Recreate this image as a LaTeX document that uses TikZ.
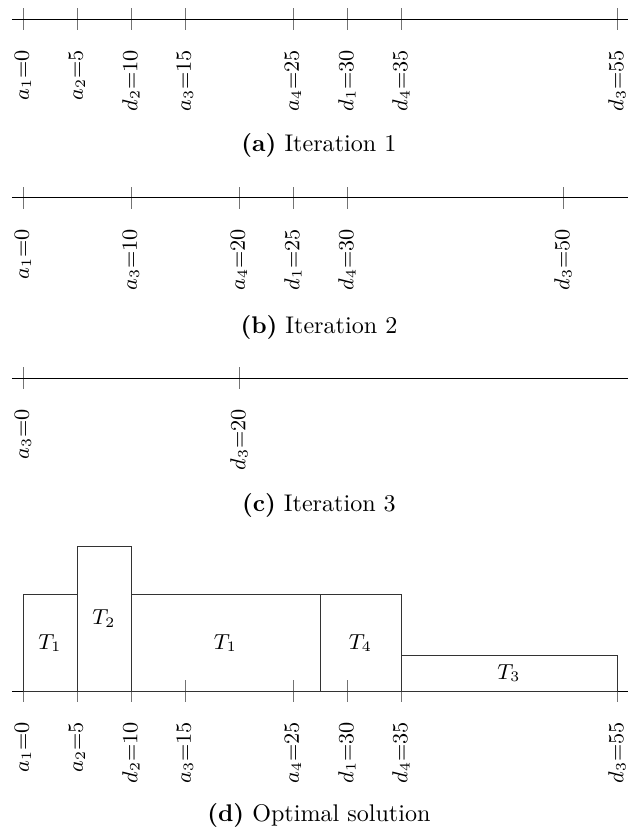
\documentclass[tikz,border=0pt]{standalone}
\usepackage{amsmath}
\usetikzlibrary{positioning}
\tikzset{
  axis/.style={black, line width=0.4pt},
  tick/.style={black!55, line width=0.4pt},
  lbl/.style={anchor=east, rotate=90, font=\small, inner sep=1pt},
  captxt/.style={font=\normalsize},
  job/.style={draw=black!80, line width=0.4pt},
  jlbl/.style={font=\small},
}

\begin{document}
\begin{tikzpicture}[x=1.575mm, y=1.575mm]
\useasboundingbox (-2.13,0) rectangle (56.39,-76.76);

% Iteration 1
\def\ya{-1.76}
\foreach \x/\lab [count=\i] in {0/a_1{=}0, 5/a_2{=}5, 10/d_2{=}10, 15/a_3{=}15, 25/a_4{=}25, 30/d_1{=}30, 35/d_4{=}35, 55/d_3{=}55} {
  \draw[tick] (\x,\ya-1) -- (\x,\ya+1);
  \node[lbl] (a\i) at (\x,\ya-2.6) {$\lab$};
}
\draw[axis] (-1.02,\ya) -- (56,\ya);
\node[captxt] (capa) at (27.4,-13.43) {\textbf{(a)} Iteration 1};

% Iteration 2
\def\yb{-18.33}
\foreach \x/\lab [count=\i] in {0/a_1{=}0, 10/a_3{=}10, 20/a_4{=}20, 25/d_1{=}25, 30/d_4{=}30, 50/d_3{=}50} {
  \draw[tick] (\x,\yb-1) -- (\x,\yb+1);
  \node[lbl] (b\i) at (\x,\yb-2.6) {$\lab$};
}
\draw[axis] (-1.02,\yb) -- (56,\yb);
\node[captxt] (capb) at (27.4,-30.28) {\textbf{(b)} Iteration 2};

% Iteration 3
\def\yc{-35}
\foreach \x/\lab [count=\i] in {0/a_3{=}0, 20/d_3{=}20} {
  \draw[tick] (\x,\yc-1) -- (\x,\yc+1);
  \node[lbl] (c\i) at (\x,\yc-2.6) {$\lab$};
}
\draw[axis] (-1.02,\yc) -- (56,\yc);
\node[captxt] (capc) at (27.4,-46.76) {\textbf{(c)} Iteration 3};

% Optimal solution
\def\yd{-63.98}
\foreach \x/\lab [count=\i] in {0/a_1{=}0, 5/a_2{=}5, 10/d_2{=}10, 15/a_3{=}15, 25/a_4{=}25, 30/d_1{=}30, 35/d_4{=}35, 55/d_3{=}55} {
  \draw[tick] (\x,\yd-1) -- (\x,\yd+1);
  \node[lbl] (d\i) at (\x,\yd-2.6) {$\lab$};
}
\draw[axis] (-1.02,\yd) -- (56,\yd);
\foreach \s/\e/\h/\lab [count=\i] in {0/5/8.9/T_1, 5/10/13.4/T_2, 10/27.5/8.9/T_1, 27.5/35/8.9/T_4, 35/55/3.33/T_3} {
  \draw[job] (\s,\yd) rectangle (\e,\yd+\h);
  \node[jlbl] (t\i) at ({(\s+\e)/2},\yd+\h/2) {$\lab$};
}
\node[captxt] (capd) at (27.4,-75.46) {\textbf{(d)} Optimal solution};

\end{tikzpicture}
\end{document}
